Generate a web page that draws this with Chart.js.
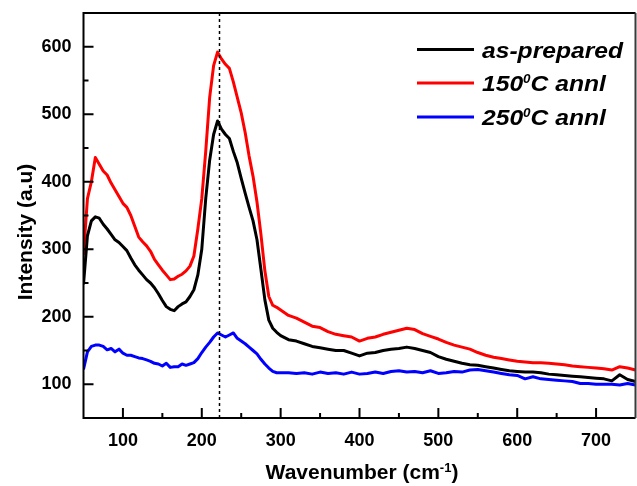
<!DOCTYPE html>
<html>
<head>
<meta charset="utf-8">
<title>Raman spectra</title>
<script src="https://cdn.jsdelivr.net/npm/chart.js@4/dist/chart.umd.min.js"></script>
<style>
  html, body { margin: 0; padding: 0; background: #ffffff; }
  canvas { display: block; }
</style>
</head>
<body>
<canvas id="spectra" width="637" height="486"></canvas>
<script>
// Wavenumber grid (cm^-1)
const wavenumber = [50,55,60,65,70,75,80,85,90,95,100,105,110,115,120,125,130,135,140,145,150,155,160,165,170,175,180,185,190,195,200,205,210,215,220,225,230,235,240,245,250,255,260,265,270,275,280,285,290,295,300,310,320,330,340,350,360,370,380,390,400,410,420,430,440,450,460,470,480,490,500,510,520,530,540,550,560,570,580,590,600,610,620,630,640,650,660,670,680,690,700,710,720,730,740,750];

// Intensities (a.u.)
const asPrepared = [248,320,342,348,346,337,330,322,314,310,304,298,287,277,269,262,255,250,243,234,224,215,211,209,215,219,222,230,240,262,300,375,432,470,490,478,470,464,445,428,405,383,362,342,314,270,225,195,183,177,172,
  166,164,160,156,154,152,150,150,146,142,146,147,150,152,153,155,153,150,147,141,137,134,131,129,128,126,124,122,120,119,118,118,117,115,114,113,112,111,110,109,108,105,114,107,104];
const annealed150 = [292,375,400,436,426,416,410,398,388,378,368,362,350,334,318,311,305,297,285,277,269,262,255,256,260,263,268,275,290,330,375,445,525,572,592,582,574,568,548,525,502,473,438,408,370,322,268,230,217,214,210,
  202,198,192,186,184,178,174,172,170,164,168,170,174,177,180,183,181,175,171,167,162,158,155,152,147,143,140,138,136,134,133,132,132,131,130,129,127,126,125,124,123,121,126,124,121];
const annealed250 = [122,148,156,158,158,156,151,153,148,152,146,143,143,141,139,138,136,134,131,130,127,131,125,126,126,130,128,130,132,138,147,155,162,170,176,173,170,173,176,168,164,160,155,150,145,137,130,124,119,117,117,
  117,116,117,115,118,116,117,115,118,115,116,118,116,119,120,118,119,117,120,116,117,119,118,121,122,120,118,116,114,113,108,111,108,107,106,105,104,101,101,100,100,100,99,101,99];

const seriesLabels = ['as-prepared', '150⁰C annl', '250⁰C annl'];
const seriesColors = ['#000000', '#ff0000', '#0000ff'];

const xTicks = [100, 200, 300, 400, 500, 600, 700];
const xMinorTicks = [150, 250, 350, 450, 550, 650];
const yTicks = [100, 200, 300, 400, 500, 600];
const yMinorTicks = [150, 250, 350, 450, 550];

const xTitle = 'Wavenumber (cm⁻¹)';
const yTitle = 'Intensity (a.u)';
const peakMarker = 222;   // dashed guide at the main band

const FAMILY = '"Liberation Sans", Arial, Helvetica, sans-serif';

// Superscript characters are drawn as small raised glyphs
const SUP = { '⁰': '0', '¹': '1', '²': '2', '⁻': '-' };
function segments(text) {
  const out = [];
  for (const ch of text) {
    const sup = ch in SUP;
    const c = sup ? SUP[ch] : ch;
    const last = out[out.length - 1];
    if (last && last.sup === sup) last.t += c; else out.push({ t: c, sup });
  }
  return out;
}
function richWidth(ctx, segs, font, supFont) {
  let w = 0;
  for (const s of segs) { ctx.font = s.sup ? supFont : font; w += ctx.measureText(s.t).width; }
  return w;
}
function drawRich(ctx, segs, x, y, font, supFont, rise) {
  let cx = x;
  for (const s of segs) {
    ctx.font = s.sup ? supFont : font;
    ctx.fillText(s.t, cx, s.sup ? y - rise : y);
    cx += ctx.measureText(s.t).width;
  }
}

function toPoints(values) {
  return wavenumber.map((x, i) => ({ x, y: values[i] }));
}

// Keep the plot box fixed regardless of tick-label overhang
function fixBox(size, prop) {
  return s => {
    s[prop] = size;
    s.paddingTop = 0; s.paddingBottom = 0; s.paddingLeft = 0; s.paddingRight = 0;
  };
}

const decorations = {
  id: 'decorations',
  afterDatasetsDraw(chart) {
    const { ctx, chartArea: a, scales: { x } } = chart;
    const px = Math.round(x.getPixelForValue(peakMarker)) + 0.5;
    ctx.save();
    ctx.strokeStyle = '#000';
    ctx.lineWidth = 1.5;
    ctx.setLineDash([3, 3]);
    ctx.beginPath();
    ctx.moveTo(px, a.top);
    ctx.lineTo(px, a.bottom);
    ctx.stroke();
    ctx.restore();
  },
  afterDraw(chart) {
    const { ctx, chartArea: a, scales: { x, y } } = chart;
    ctx.save();

    // Inward tick marks
    ctx.strokeStyle = '#000';
    ctx.lineWidth = 2;
    ctx.beginPath();
    for (const v of xTicks) { const p = x.getPixelForValue(v); ctx.moveTo(p, a.bottom); ctx.lineTo(p, a.bottom - 10); }
    for (const v of xMinorTicks) { const p = x.getPixelForValue(v); ctx.moveTo(p, a.bottom); ctx.lineTo(p, a.bottom - 5); }
    for (const v of yTicks) { const p = y.getPixelForValue(v); ctx.moveTo(a.left, p); ctx.lineTo(a.left + 10, p); }
    for (const v of yMinorTicks) { const p = y.getPixelForValue(v); ctx.moveTo(a.left, p); ctx.lineTo(a.left + 5, p); }
    ctx.stroke();

    // Frame
    ctx.lineWidth = 2;
    ctx.strokeStyle = '#000';
    ctx.beginPath();
    ctx.moveTo(a.right, a.top); ctx.lineTo(a.left, a.top); ctx.lineTo(a.left, a.bottom); ctx.lineTo(a.right, a.bottom);
    ctx.stroke();
    ctx.strokeStyle = '#3a3a3a';
    ctx.beginPath();
    ctx.moveTo(a.right, a.top); ctx.lineTo(a.right, a.bottom);
    ctx.stroke();

    // Legend
    const legendFont = 'italic bold 22px ' + FAMILY;
    const legendSup = 'italic bold 12px ' + FAMILY;
    const rows = [49.5, 83, 117];
    ctx.fillStyle = '#000';
    ctx.textBaseline = 'alphabetic';
    ctx.textAlign = 'left';
    chart.data.datasets.forEach((ds, i) => {
      const ly = rows[i];
      ctx.strokeStyle = ds.borderColor;
      ctx.lineWidth = 3;
      ctx.beginPath();
      ctx.moveTo(417, ly); ctx.lineTo(474, ly);
      ctx.stroke();
      ctx.save();
      ctx.translate(482, ly + 8);
      ctx.scale(1.12, 1);
      drawRich(ctx, segments(ds.label), 0, 0, legendFont, legendSup, 8.5);
      ctx.restore();
    });

    // Axis titles
    const titleFont = 'bold 21px ' + FAMILY;
    const titleSup = 'bold 13px ' + FAMILY;
    const xs = segments(xTitle);
    const xw = richWidth(ctx, xs, titleFont, titleSup);
    drawRich(ctx, xs, 362 - xw / 2, 479, titleFont, titleSup, 7);

    const ys = segments(yTitle);
    const yw = richWidth(ctx, ys, titleFont, titleSup);
    ctx.save();
    ctx.translate(32, 232);
    ctx.rotate(-Math.PI / 2);
    drawRich(ctx, ys, -yw / 2, 0, titleFont, titleSup, 7);
    ctx.restore();

    ctx.restore();
  }
};

const tickFont = { family: FAMILY, size: 18, weight: 'bold' };

new Chart(document.getElementById('spectra'), {
  type: 'line',
  data: {
    datasets: [asPrepared, annealed150, annealed250].map((vals, i) => ({
      label: seriesLabels[i],
      data: toPoints(vals),
      borderColor: seriesColors[i],
      backgroundColor: seriesColors[i],
      borderWidth: 3,
      pointRadius: 0,
      tension: 0,
      borderJoinStyle: 'round',
      fill: false
    }))
  },
  options: {
    responsive: false,
    animation: false,
    devicePixelRatio: 1,
    layout: { padding: { top: 13, right: 1.5, left: 0, bottom: 0 } },
    plugins: { legend: { display: false }, tooltip: { enabled: false } },
    scales: {
      x: {
        type: 'linear',
        min: 50,
        max: 750,
        afterBuildTicks: s => { s.ticks = xTicks.map(v => ({ value: v })); },
        afterFit: fixBox(68, 'height'),
        grid: { display: false, drawTicks: false },
        border: { display: false },
        ticks: { font: tickFont, color: '#000', padding: 12, maxRotation: 0, autoSkip: false }
      },
      y: {
        type: 'linear',
        min: 50,
        max: 650,
        afterBuildTicks: s => { s.ticks = yTicks.map(v => ({ value: v })); },
        afterFit: fixBox(83.5, 'width'),
        grid: { display: false, drawTicks: false },
        border: { display: false },
        ticks: { font: tickFont, color: '#000', padding: 12, autoSkip: false }
      }
    }
  },
  plugins: [decorations]
});
</script>
</body>
</html>
